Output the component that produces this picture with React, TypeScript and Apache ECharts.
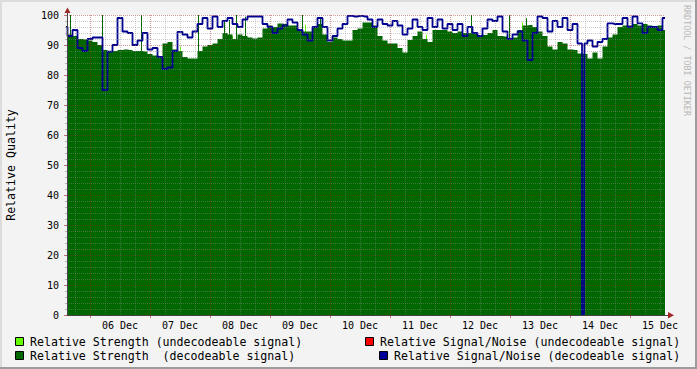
import React, { useEffect, useRef } from "react";
import * as echarts from "echarts";

// Time unit: hours relative to 06 Dec 00:00
const X_MIN = -9.2;
const X_MAX = 230;
const START_HOUR = -10;
const STEP_HOURS = 2;

const dayLabels = ["06 Dec", "07 Dec", "08 Dec", "09 Dec", "10 Dec", "11 Dec", "12 Dec", "13 Dec", "14 Dec", "15 Dec"];

// Relative Strength (decodeable signal), one value every 2 hours
const strength = [
  93, 93.5, 93, 92, 91.8, 91.5, 91, 90, 88.3, 88,
  88, 88.3, 88.5, 88.3, 88, 88, 87.8, 87, 86.5, 86.3,
  90.5, 91, 88.5, 88, 86, 85.5, 85.5, 88, 89.5, 90,
  90.5, 92, 94, 93.5, 92, 93.5, 93, 92.5, 92.2, 92.5,
  95.5, 96.5, 96, 97.2, 97, 96.5, 96.5, 95, 94.5, 94.5,
  96, 97, 93.5, 91, 92.5, 92, 91.5, 91.5, 95, 95.5,
  97.5, 97.5, 96.5, 93, 91.5, 90.5, 90.5, 89, 87.5, 91.7,
  93, 94.5, 92, 91, 95, 95, 95, 94.5, 94, 94.5,
  94, 94, 94, 93.3, 93.3, 94, 95, 93, 92.8, 92,
  92.5, 95, 96.5, 96.7, 96, 94.5, 93, 89.5, 88.5, 91,
  90.5, 88.5, 88.3, 87.2, 87, 85.5, 87.5, 85.5, 89.5, 92.5,
  93.5, 96, 96.5, 96.5, 97, 96.5, 97, 96.5, 96, 96.5,
  95,
];

// Relative Signal/Noise (decodeable signal), one value every 2 hours
const snr = [
  96, 93, 95, 89, 88, 92, 92.5, 92.5, 75, 87.8,
  90, 99, 94.5, 94, 90, 91.5, 94, 88.5, 89, 86,
  82, 82.5, 88, 94.4, 93.5, 92.5, 94.5, 97, 99, 95.5,
  99.5, 96, 98, 99, 97, 96, 98.5, 99.5, 99.5, 99.5,
  97, 96, 94, 95.5, 96.5, 98.5, 97.5, 95, 93.5, 91.5,
  96, 99, 96, 91.5, 93, 95.5, 97, 99.7, 99.5, 99.7,
  99.5, 98.5, 96, 98.5, 97, 96.5, 98, 96.5, 93.5, 95.5,
  98.5, 96, 95, 99, 96, 98.5, 95.5, 97, 95, 97,
  93, 96, 94, 93, 95.5, 98.5, 98, 99.5, 94.5, 92,
  93.5, 94.5, 91.5, 85, 94, 99.5, 99, 94.5, 98, 96,
  99, 95, 97, 90.5, 90.5, 91.5, 89.5, 91, 92, 97.2,
  97, 97, 99, 96, 99.5, 97.2, 94, 96, 96, 95,
  99,
];

// short spikes of decodeable strength [hour, value]
const strengthSpikes = [
  [-7.6, 100], [5.2, 100], [20.8, 100], [43.6, 100], [54, 98.3], [56, 98.3],
  [58.8, 100], [62.4, 99.4], [85.2, 100], [92.4, 99], [152.8, 100], [168, 100], [174.8, 98.9],
];

// Relative Strength (undecodeable signal) [hour, value]
const undecodeableStrength = [
  [36.4, 89.5], [57.2, 93], [86.4, 96.7], [134.8, 93.3], [173.2, 97.5],
];

// Relative Signal/Noise dropouts [hour, value]
const snrDropouts = [[197.6, 0]];

const legendItems = [
  { text: "Relative Strength (undecodeable signal)", color: "#66FF00", x: 15, y: 337 },
  { text: "Relative Strength\u00A0 (decodeable signal)", color: "#006600", x: 15, y: 351 },
  { text: "Relative Signal/Noise (undecodeable signal)", color: "#FF0000", x: 365, y: 337 },
  { text: "Relative Signal/Noise (decodeable signal)", color: "#000099", x: 379, y: 351 },
];

const MONO = '"DejaVu Sans Mono", monospace';

const spikeRenderer = (color: string) => (params: any, api: any) => {
  const top = api.coord([api.value(0), api.value(1)]);
  const bottom = api.coord([api.value(0), 0]);
  const x = Math.round(top[0]) - 1;
  return {
    type: "rect",
    shape: { x, y: top[1], width: 1, height: bottom[1] - top[1] },
    style: { fill: color },
  };
};

export default function App() {
  const ref = useRef<HTMLDivElement>(null);

  useEffect(() => {
    document.body.style.margin = "0";
    if (!ref.current) return;
    const chart = echarts.init(ref.current, undefined, { renderer: "svg" });

    const strengthData = strength.map((v, i) => [START_HOUR + i * STEP_HOURS, v]);
    const snrData = snr
      .map((v, i) => [START_HOUR + i * STEP_HOURS, v])
      .concat(snrDropouts)
      .sort((a, b) => a[0] - b[0]);

    const majorHours: number[] = [];
    const gridData: number[][] = [];
    for (let h = -6; h < X_MAX; h += 6) {
      const major = h % 24 === 0 ? 1 : 0;
      if (major) majorHours.push(h);
      gridData.push([h, 100, major]);
    }
    const noonHours = dayLabels.map((_, i) => 12 + 24 * i);

    const graphic: any[] = [
      { type: "rect", shape: { x: 0, y: 0, width: 697, height: 2 }, style: { fill: "#DCDCDC" }, silent: true },
      { type: "rect", shape: { x: 0, y: 0, width: 2, height: 369 }, style: { fill: "#DCDCDC" }, silent: true },
      { type: "rect", shape: { x: 0, y: 367, width: 697, height: 2 }, style: { fill: "#9C9C9C" }, silent: true },
      { type: "rect", shape: { x: 695, y: 0, width: 2, height: 369 }, style: { fill: "#9C9C9C" }, silent: true },
      { type: "line", shape: { x1: 67.5, y1: 15, x2: 67.5, y2: 12 }, style: { stroke: "#444", lineWidth: 1 }, silent: true },
      { type: "line", shape: { x1: 665, y1: 315.5, x2: 669, y2: 315.5 }, style: { stroke: "#444", lineWidth: 1 }, silent: true },
      { type: "polygon", shape: { points: [[64.5, 13], [70.5, 13], [67.5, 7.5]] }, style: { fill: "#A02828" }, silent: true },
      { type: "polygon", shape: { points: [[668, 312], [668, 318.5], [674, 315.2]] }, style: { fill: "#A02828" }, silent: true },
      {
        type: "text", x: 686.5, y: 5, rotation: -Math.PI / 2, silent: true,
        style: { text: "RRDTOOL / TOBI OETIKER", fill: "#B8B8B8", fontSize: 8.4, fontFamily: MONO, align: "left", verticalAlign: "middle" },
      },
    ];
    legendItems.forEach((it) => {
      graphic.push({
        type: "rect", shape: { x: it.x + 0.5, y: it.y + 0.5, width: 8, height: 8 },
        style: { fill: it.color, stroke: "#000", lineWidth: 1 }, silent: true,
      });
      graphic.push({
        type: "text", x: it.x + 15, y: it.y + 4.5, silent: true,
        style: { text: it.text, fill: "#000", fontSize: 11.6, fontFamily: MONO, align: "left", verticalAlign: "middle" },
      });
    });

    chart.setOption({
      animation: false,
      backgroundColor: "#F3F3F3",
      grid: {
        left: 67, top: 15, width: 598, height: 300, show: true, backgroundColor: "#FFFFFF", borderWidth: 0,
        containLabel: false, outerBoundsMode: "none",
      },
      xAxis: {
        type: "value", min: X_MIN, max: X_MAX, z: 10,
        axisLine: { show: true, onZero: false, lineStyle: { color: "#444", width: 1 } },
        axisTick: { show: true, customValues: majorHours, length: 3, lineStyle: { color: "rgba(160,30,30,0.6)" } },
        axisLabel: {
          customValues: noonHours,
          formatter: (v: number) => dayLabels[Math.round((v - 12) / 24)] ?? "",
          fontFamily: MONO, fontSize: 10, color: "#000", margin: 5,
        },
        splitLine: { show: false },
      },
      yAxis: {
        type: "value", min: 0, max: 100, interval: 10, z: 10,
        name: "Relative Quality", nameLocation: "middle", nameGap: 50, nameRotate: 90,
        nameTextStyle: { fontFamily: MONO, fontSize: 11.6, color: "#000" },
        axisLine: { show: true, onZero: false, lineStyle: { color: "#444", width: 1 } },
        axisTick: { show: true, length: 3, lineStyle: { color: "rgba(160,30,30,0.6)" } },
        minorTick: { show: true, splitNumber: 5, length: 2, lineStyle: { color: "rgba(140,140,140,0.6)" } },
        splitLine: { show: true, lineStyle: { color: "rgba(160,30,30,0.45)", type: [1, 1], width: 1 } },
        minorSplitLine: { show: true, lineStyle: { color: "rgba(140,140,140,0.45)", type: [1, 1], width: 1 } },
        axisLabel: { fontFamily: MONO, fontSize: 10, color: "#000", margin: 8 },
      },
      graphic,
      series: [
        {
          name: "Relative Strength (undecodeable signal)", type: "custom", data: undecodeableStrength,
          renderItem: spikeRenderer("#66FF00"), z: 1, silent: true, clip: true,
        },
        {
          name: "Relative Strength (decodeable signal)", type: "line", step: "middle", data: strengthData,
          symbol: "none", lineStyle: { width: 0, color: "#006600" },
          areaStyle: { color: "#006600", opacity: 1 }, z: 2, silent: true,
        },
        {
          name: "spikes", type: "custom", data: strengthSpikes,
          renderItem: spikeRenderer("#006600"), z: 2, silent: true, clip: true,
        },
        {
          name: "Relative Signal/Noise (decodeable signal)", type: "line", step: "middle", data: snrData,
          symbol: "none", lineStyle: { width: 1.8, color: "#000090" }, z: 3, silent: true,
        },
        {
          name: "grid", type: "custom", data: gridData, z: 10, silent: true, clip: true,
          renderItem: (params: any, api: any) => {
            const top = api.coord([api.value(0), api.value(1)]);
            const bottom = api.coord([api.value(0), 0]);
            const x = Math.round(top[0]) + 0.5;
            const major = api.value(2) === 1;
            return {
              type: "line",
              shape: { x1: x, y1: top[1], x2: x, y2: bottom[1] },
              style: {
                stroke: major ? "rgba(160,30,30,0.45)" : "rgba(140,140,140,0.45)",
                lineWidth: 1, lineDash: [1, 1],
              },
            };
          },
        },
      ],
    });

    return () => chart.dispose();
  }, []);

  return <div ref={ref} style={{ width: 697, height: 369 }} />;
}
